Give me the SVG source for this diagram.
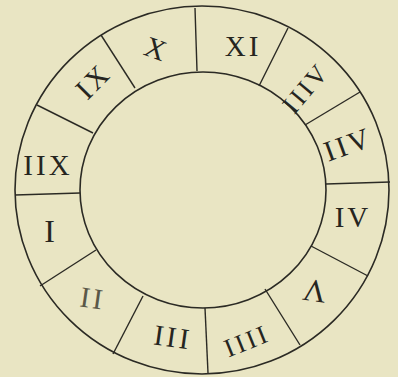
<svg xmlns="http://www.w3.org/2000/svg" width="398" height="377" viewBox="0 0 398 377">
<style>
.ring{fill:none;stroke:#2b2a24;stroke-width:1.6}
.div{stroke:#2b2a24;stroke-width:1.4;fill:none}
.num{font-family:"Liberation Serif","DejaVu Serif",serif;font-size:29px;fill:#26251f;text-anchor:middle;dominant-baseline:central;letter-spacing:3px}
.faint{fill:#5a5848}
</style>
<rect x="0" y="0" width="398" height="377" fill="#e9e5c3"/>
<g id="ring">
<ellipse class="ring" cx="202" cy="190" rx="187" ry="184"/>
<ellipse class="ring" cx="203" cy="190" rx="123" ry="118"/>
</g>
<g id="connectors">
<line class="div" x1="195" y1="8" x2="197" y2="71"/>
<line class="div" x1="101" y1="35" x2="135" y2="88"/>
<line class="div" x1="37" y1="105" x2="93" y2="133"/>
<line class="div" x1="15" y1="195" x2="80" y2="193"/>
<line class="div" x1="40" y1="286" x2="96" y2="250"/>
<line class="div" x1="113" y1="354" x2="143" y2="296"/>
<line class="div" x1="208" y1="373" x2="205" y2="308"/>
<line class="div" x1="300" y1="345" x2="265" y2="289"/>
<line class="div" x1="368" y1="276" x2="311" y2="246"/>
<line class="div" x1="390" y1="182" x2="326" y2="184"/>
<line class="div" x1="360" y1="92" x2="305" y2="125"/>
<line class="div" x1="288" y1="28" x2="259" y2="86"/>
</g>
<g id="seg-XI"><text class="num" x="243" y="46">XI</text></g>
<g id="seg-X"><text class="num" transform="translate(157,49) rotate(20)">X</text></g>
<g id="seg-IX"><text class="num" transform="translate(93,81) rotate(-45)">IX</text></g>
<g id="seg-IIX"><text class="num" x="48" y="165">IIX</text></g>
<g id="seg-I"><text class="num" x="51" y="231" style="font-size:32px">I</text></g>
<g id="seg-II"><text class="num faint" transform="translate(93,298) rotate(8)">II</text></g>
<g id="seg-III"><text class="num" transform="translate(173,337) rotate(8)">III</text></g>
<g id="seg-IIII"><text class="num" transform="translate(247,341) rotate(-22)" style="font-size:26px">IIII</text></g>
<g id="seg-V"><text class="num" transform="translate(313,291) rotate(188)" style="font-size:32px">V</text></g>
<g id="seg-IV"><text class="num" x="353" y="217">IV</text></g>
<g id="seg-IIV"><text class="num" transform="translate(348,144) rotate(-20)">IIV</text></g>
<g id="seg-IIIV"><text class="num" transform="translate(306,88) rotate(-50)" style="font-size:26px">IIIV</text></g>
</svg>
